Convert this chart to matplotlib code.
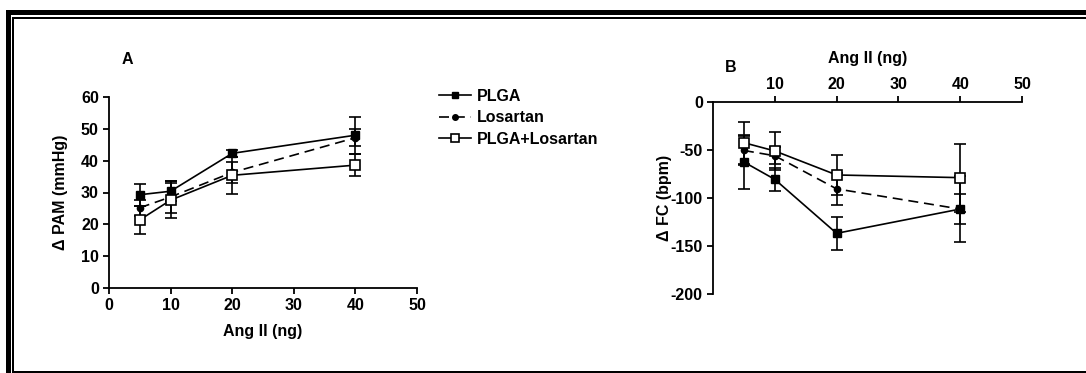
import matplotlib
matplotlib.use("Agg")
import matplotlib.pyplot as plt
from matplotlib.patches import Rectangle
from matplotlib.lines import Line2D

plt.rcParams['font.family'] = ['Liberation Sans', 'DejaVu Sans']
plt.rcParams['font.weight'] = 'bold'
plt.rcParams['font.size'] = 11.5
plt.rcParams['axes.unicode_minus'] = False

# Angiotensin II doses (ng)
dose = [5, 10, 20, 40]

# Panel A: change in mean arterial pressure (mmHg)
pam_plga = [29.3, 30.4, 42.3, 48.0]
pam_plga_err = [3.4, 3.2, 1.0, 5.8]
pam_los = [25.2, 28.6, 36.3, 47.2]
pam_los_err = [2.5, 5.0, 3.2, 2.7]
pam_combo = [21.4, 27.6, 35.4, 38.6]
pam_combo_err = [4.4, 5.5, 5.9, 3.5]

# Panel B: change in heart rate (bpm)
fc_plga = [-62.5, -80.6, -136.8, -111.5]
fc_plga_err = [28.0, 12.0, 17.5, 34.5]
fc_los = [-50.5, -56.0, -90.5, -111.5]
fc_los_err = [15.0, 9.0, 16.5, 16.0]
fc_combo = [-42.4, -51.0, -76.0, -78.8]
fc_combo_err = [22.0, 19.5, 20.5, 35.5]

series_names = ["PLGA", "Losartan", "PLGA+Losartan"]

FS = 11.5
W, H = 1086, 373
fig = plt.figure(figsize=(W / 100, H / 100), dpi=100)


def px_axes(x0, x1, ytop, ybot):
    return fig.add_axes([x0 / W, 1 - ybot / H, (x1 - x0) / W, (ybot - ytop) / H])


# decorative double frame
frame = fig.add_axes([0, 0, 1, 1], zorder=-5)
frame.set_xlim(0, W)
frame.set_ylim(H, 0)
frame.axis('off')
for (x, y, w, h) in [(6, 10, W - 6, 5), (6, 10, 5, H - 10),
                     (12, 17, W - 12, 2), (12, 17, 2, H - 17),
                     (12, 371, W - 12, 2)]:
    frame.add_patch(Rectangle((x, y), w, h, facecolor='black', edgecolor='none'))

styles = [
    dict(marker='s', ms=6.3, mfc='black', mec='black', ls='-'),
    dict(marker='o', ms=4.5, mfc='black', mec='black', ls=(0, (6, 3.5))),
    dict(marker='s', ms=6.8, mfc='white', mec='black', mew=1.2, ls='-'),
]


def draw_series(ax, ys, errs):
    for y, e, st in zip(ys, errs, styles):
        ax.errorbar(dose, y, yerr=e, color='black', lw=1.2, elinewidth=1.2,
                    capsize=4.3, capthick=1.2, clip_on=False, zorder=3, **st)


def style_axis(ax):
    for s in ax.spines.values():
        s.set_linewidth(1.3)
    ax.tick_params(width=1.3, length=4.3, labelsize=FS, pad=3)


# Panel A
axA = px_axes(109, 417, 97, 288)
draw_series(axA, [pam_plga, pam_los, pam_combo],
            [pam_plga_err, pam_los_err, pam_combo_err])
axA.set_xlim(0, 50)
axA.set_ylim(0, 60)
axA.set_xticks([0, 10, 20, 30, 40, 50])
axA.set_yticks([0, 10, 20, 30, 40, 50, 60])
axA.spines['top'].set_visible(False)
axA.spines['right'].set_visible(False)
style_axis(axA)
axA.set_xlabel("Ang II (ng)", fontsize=FS, fontweight='bold', labelpad=8)
axA.set_ylabel("\u0394 PAM (mmHg)", fontsize=FS, fontweight='bold', labelpad=9)
fig.text(127 / W, 1 - 59 / H, "A", fontsize=FS, fontweight='bold', ha='center', va='center')

# Panel B
axB = px_axes(713, 1022, 102, 294)
draw_series(axB, [fc_plga, fc_los, fc_combo],
            [fc_plga_err, fc_los_err, fc_combo_err])
axB.set_xlim(0, 50)
axB.set_ylim(-200, 0)
axB.set_xticks([10, 20, 30, 40, 50])
axB.set_yticks([0, -50, -100, -150, -200])
axB.spines['bottom'].set_visible(False)
axB.spines['right'].set_visible(False)
axB.xaxis.tick_top()
axB.xaxis.set_label_position('top')
style_axis(axB)
axB.set_xlabel("Ang II (ng)", fontsize=FS, fontweight='bold', labelpad=10)
axB.set_ylabel("\u0394 FC (bpm)", fontsize=FS, fontweight='bold', labelpad=-1)
fig.text(731 / W, 1 - 67 / H, "B", fontsize=FS, fontweight='bold', ha='center', va='center')

# shared legend
handles = [Line2D([], [], color='black', lw=1.2, **st) for st in styles]
handles[0].set_markersize(5)
handles[1].set_markersize(4)
handles[2].set_markersize(5.5)
fig.legend(handles, series_names, loc='upper left',
           bbox_to_anchor=(439 / W, 1 - 89 / H), frameon=False,
           handlelength=2.0, handletextpad=0.4, labelspacing=0.4,
           borderaxespad=0, borderpad=0, prop=dict(size=FS, weight='bold'))

fig.savefig("out.png", dpi=100)
